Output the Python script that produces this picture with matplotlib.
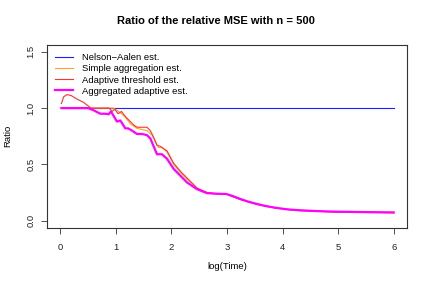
import matplotlib
matplotlib.use("Agg")
import matplotlib.pyplot as plt

plt.rcParams['font.family'] = ['Liberation Sans', 'DejaVu Sans']

# Series (x = log(Time), y = ratio)
na_x = [0.02, 6.0]
na_y = [1.0, 1.0]

simple_x = [0.02, 0.96, 1.02, 1.08, 1.17, 1.26, 1.32, 1.38, 1.47, 1.56, 1.65, 1.71,
            1.77, 1.83, 1.92, 2.04, 2.16, 2.28, 2.46, 2.64, 2.8, 2.99, 3.23, 3.53,
            3.89, 4.31, 4.91, 5.5, 6.0]
simple_y = [1.0, 1.0, 0.98, 0.96, 0.92, 0.86, 0.84, 0.82, 0.81, 0.80, 0.76, 0.70,
            0.65, 0.65, 0.61, 0.50, 0.43, 0.37, 0.29, 0.25, 0.24, 0.235, 0.19, 0.145,
            0.11, 0.089, 0.077, 0.073, 0.070]

thresh_x = [0.02, 0.06, 0.12, 0.2, 0.3, 0.42, 0.55, 0.88, 0.93, 0.98, 1.04, 1.1,
            1.18, 1.26, 1.32, 1.38, 1.47, 1.56, 1.62, 1.68, 1.74, 1.80, 1.92, 2.04,
            2.16, 2.28, 2.46, 2.64, 2.8, 2.99, 3.23, 3.53, 3.89, 4.31, 4.91, 5.5, 6.0]
thresh_y = [1.04, 1.10, 1.12, 1.11, 1.08, 1.05, 1.0, 1.0, 0.97, 0.99, 0.95, 0.97,
            0.92, 0.88, 0.85, 0.83, 0.83, 0.83, 0.80, 0.74, 0.67, 0.66, 0.62, 0.51,
            0.44, 0.38, 0.29, 0.25, 0.24, 0.236, 0.19, 0.147, 0.112, 0.091, 0.079, 0.075, 0.072]

agg_x = [0.02, 0.5, 0.6, 0.72, 0.8, 0.87, 0.91, 0.96, 1.02, 1.08, 1.17, 1.22,
         1.29, 1.38, 1.47, 1.56, 1.62, 1.68, 1.74, 1.83, 1.92, 2.04, 2.16, 2.28,
         2.46, 2.64, 2.8, 2.99, 3.1, 3.23, 3.38, 3.53, 3.7, 3.89, 4.1, 4.31, 4.6,
         4.91, 5.3, 5.6, 6.0]
agg_y = [1.0, 1.0, 0.98, 0.95, 0.95, 0.945, 0.97, 0.93, 0.88, 0.89, 0.82, 0.82,
         0.80, 0.77, 0.77, 0.76, 0.73, 0.66, 0.59, 0.59, 0.55, 0.46, 0.40, 0.34,
         0.28, 0.245, 0.24, 0.237, 0.22, 0.195, 0.17, 0.15, 0.13, 0.114, 0.10,
         0.093, 0.086, 0.081, 0.078, 0.076, 0.074]

labels = ['Nelson\u2212Aalen est.', 'Simple aggregation est.',
          'Adaptive threshold est.', 'Aggregated adaptive est.']

fig = plt.figure(figsize=(4.31, 2.86), dpi=100)
ax = fig.add_axes([47 / 431, (286 - 227.5) / 286, 360 / 431, 182.5 / 286])

ax.plot(na_x, na_y, color='#2020ff', lw=0.8, label=labels[0])
ax.plot(simple_x, simple_y, color='#ffa520', lw=0.8, label=labels[1])
ax.plot(thresh_x, thresh_y, color='#ff3030', lw=0.8, label=labels[2])
ax.plot(agg_x, agg_y, color='magenta', lw=1.6, label=labels[3])

ax.set_xlim(-0.24, 6.24)
ax.set_ylim(-0.06, 1.56)
ax.set_xticks(range(7))
ax.set_yticks([0.0, 0.5, 1.0, 1.5])
ax.set_yticklabels(['0.0', '0.5', '1.0', '1.5'], rotation=90, va='center')
ax.tick_params(labelsize=6.8, length=4.3, width=0.6, colors='#333333',
               labelcolor='#222222')
ax.tick_params(axis='x', pad=7)
ax.tick_params(axis='y', pad=3.8)
for s in ax.spines.values():
    s.set_linewidth(0.8)
    s.set_color('#333333')

ax.set_xlabel('log(Time)', fontsize=6.8, labelpad=7)
ax.set_ylabel('Ratio', fontsize=6.8, labelpad=10.4)
fig.text(0.5, 1 - 21 / 286, 'Ratio of the relative MSE with n = 500',
         ha='center', va='center', fontsize=8, fontweight='bold')

ax.legend(loc='upper left', frameon=False, fontsize=6.8, handlelength=1.9,
          bbox_to_anchor=(8 / 360, 1 - 8 / 182.5), borderaxespad=0, borderpad=0,
          labelspacing=0.24, handletextpad=1.0)

fig.savefig('out.png', dpi=100)
